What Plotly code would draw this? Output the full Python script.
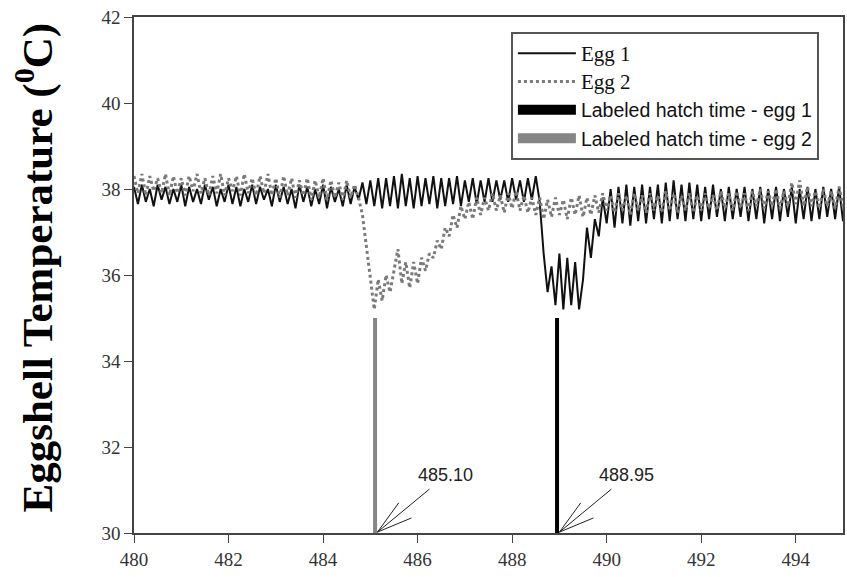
import plotly.graph_objects as go

# ---------------- data ----------------
START_HOUR = 480.0          # first sample (hours of incubation)
STEP_MIN = 5                # sampling interval in minutes

egg1_temp = [
    38.05, 37.65, 38.10, 37.70, 38.00, 37.60, 38.10, 37.75, 38.05, 37.65,
    38.00, 37.70, 38.10, 37.60, 38.05, 37.70, 38.00, 37.65, 38.10, 37.75,
    38.05, 37.60, 38.00, 37.70, 38.10, 37.65, 38.05, 37.60, 38.00, 37.70,
    38.10, 37.65, 38.05, 37.75, 38.00, 37.60, 38.10, 37.70, 38.05, 37.65,
    38.00, 37.55, 38.10, 37.70, 38.05, 37.60, 38.00, 37.65, 38.10, 37.55,
    38.05, 37.70, 38.00, 37.60, 38.10, 37.65, 38.05, 37.75, 38.15, 37.65,
    38.20, 37.60, 38.25, 37.55, 38.25, 37.60, 38.30, 37.55, 38.35, 37.60,
    38.25, 37.55, 38.30, 37.60, 38.25, 37.65, 38.30, 37.55, 38.25, 37.60,
    38.25, 37.65, 38.30, 37.60, 38.20, 37.70, 38.25, 37.65, 38.20, 37.70,
    38.25, 37.70, 38.20, 37.75, 38.20, 37.70, 38.25, 37.75, 38.20, 37.70,
    38.25, 37.75, 38.30,
    37.70, 36.50, 35.60, 36.20, 35.30, 36.50, 35.20, 36.40, 35.30, 36.30,
    35.20, 35.90, 37.10, 36.40, 37.30, 36.90, 37.80, 37.20,
    38.00, 37.10, 38.05, 37.20, 38.10, 37.15, 38.05, 37.25, 38.10, 37.20,
    38.05, 37.30, 38.10, 37.20, 38.15, 37.25, 38.20, 37.30, 38.10, 37.25,
    38.15, 37.30, 38.10, 37.25, 38.05, 37.30, 38.10, 37.35, 38.00, 37.25,
    38.05, 37.30, 38.00, 37.35, 38.05, 37.25, 38.00, 37.30, 38.05, 37.20,
    38.00, 37.30, 38.05, 37.25, 38.00, 37.35, 38.05, 37.20, 38.00, 37.30,
    38.05, 37.25, 38.00, 37.30, 38.05, 37.35, 38.00, 37.30, 38.05, 37.25,
]

egg2_temp = [
    38.30, 37.90, 38.35, 37.85, 38.30, 37.95, 38.25, 37.90, 38.35, 37.85,
    38.30, 37.90, 38.25, 37.85, 38.30, 37.95, 38.35, 37.90, 38.25, 37.85,
    38.30, 37.90, 38.35, 37.85, 38.25, 37.95, 38.30, 37.85, 38.35, 37.90,
    38.25, 37.85, 38.30, 37.90, 38.35, 37.85, 38.25, 37.80, 38.30, 37.85,
    38.25, 37.80, 38.20, 37.85, 38.25, 37.75, 38.20, 37.80, 38.25, 37.75,
    38.20, 37.80, 38.15, 37.75, 38.20, 37.80, 38.10,
    37.80, 37.40, 36.70, 36.00, 35.20, 35.90, 35.40, 36.00, 35.60, 36.10,
    36.60, 35.80, 36.30, 35.70, 36.30, 35.80, 36.40, 36.10, 36.50,
    36.40, 36.80, 36.60, 37.10, 36.90, 37.40, 37.10, 37.60, 37.30, 37.70,
    37.30, 37.80, 37.40, 37.80, 37.50, 37.90, 37.50, 37.85, 37.45, 37.90,
    37.55, 37.95, 37.50, 37.85, 37.45, 37.80, 37.40, 37.80, 37.30, 37.75,
    37.35, 37.80, 37.40, 37.75, 37.30, 37.80, 37.40, 37.85, 37.35, 37.80,
    37.40, 37.85, 37.45, 37.90, 37.50,
    37.85, 37.45, 37.90, 37.50, 37.85, 37.40, 37.90, 37.50, 37.85, 37.45,
    37.90, 37.50, 37.85, 37.45, 37.95, 37.50, 37.90, 37.45, 37.85, 37.50,
    37.90, 37.45, 37.85, 37.50, 37.90, 37.55, 37.85, 37.50, 37.95, 37.55,
    37.90, 37.50, 37.95, 37.55, 37.90, 37.50, 37.95, 37.60, 38.00, 37.55,
    37.95, 37.60, 38.00, 37.55, 37.95, 37.60, 38.15, 37.65, 38.20, 37.60,
    38.05, 37.60, 37.95, 37.55, 38.00, 37.60, 37.95, 37.55, 38.05, 37.60,
]

hatch_times = [488.95, 485.10]          # egg 1, egg 2
hatch_labels = ["488.95", "485.10"]
hatch_top = 35.0
y_min, y_max = 30, 42
x_min, x_max = 480, 495
x_ticks = [480, 482, 484, 486, 488, 490, 492, 494]
y_ticks = [30, 32, 34, 36, 38, 40, 42]

if len(egg1_temp) != len(egg2_temp):
    raise ValueError(f"length mismatch {len(egg1_temp)} {len(egg2_temp)}")
n = len(egg1_temp)
hours = [START_HOUR + i * STEP_MIN / 60.0 for i in range(n)]

SERIF = "Liberation Serif, Times New Roman, serif"
SANS = "Liberation Sans, Arial, sans-serif"

fig = go.Figure()
fig.add_trace(go.Scatter(
    x=hours, y=egg1_temp, mode="lines",
    line=dict(color="#111111", width=2),
    name=f'<span style="font-family:{SERIF};font-size:21px">Egg 1</span>'))
fig.add_trace(go.Scatter(
    x=hours, y=egg2_temp, mode="lines",
    line=dict(color="#7a7a7a", width=3, dash="dot"),
    name=f'<span style="font-family:{SERIF};font-size:21px">Egg 2</span>'))

hatch_colors = ["#000000", "#858585"]
hatch_names = ["Labeled hatch time - egg 1", "Labeled hatch time - egg 2"]
for t, c, nm in zip(hatch_times, hatch_colors, hatch_names):
    fig.add_trace(go.Scatter(x=[t, t], y=[y_min, hatch_top], mode="lines",
                             line=dict(color=c, width=4), showlegend=False,
                             hoverinfo="skip"))
    fig.add_trace(go.Scatter(x=[None, None], y=[None, None], mode="lines",
                             line=dict(color=c, width=14), name=nm))

# fan of pointer lines + value labels
fan_ends = [(1.10, 1.00), (0.45, 0.68), (0.72, 0.33)]
for t, lab in zip(hatch_times, hatch_labels):
    bx, by = t + 0.05, y_min + 0.02
    for dx, dy in fan_ends:
        fig.add_shape(type="line", xref="x", yref="y", x0=bx, y0=by,
                      x1=bx + dx, y1=by + dy,
                      line=dict(color="#222222", width=1))
    fig.add_annotation(x=t + 1.48, y=31.35, xref="x", yref="y", text=lab,
                       showarrow=False, font=dict(family=SANS, size=18, color="#222222"))

fig.add_annotation(x=-0.14, y=0.514, xref="paper", yref="paper",
                   xanchor="center", yanchor="middle",
                   text="<b>Eggshell Temperature (<sup>0</sup>C)</b>",
                   textangle=-90, showarrow=False,
                   font=dict(family=SERIF, size=43, color="#000000"))

axis_common = dict(showline=True, linecolor="#444444", linewidth=1.5,
                   mirror=True, ticks="outside", ticklen=8, tickwidth=1.2,
                   tickcolor="#444444", showgrid=False, zeroline=False,
                   ticklabeloverflow="allow",
                   tickfont=dict(family=SERIF, size=19, color="#333333"))

fig.update_xaxes(range=[x_min, x_max], tickvals=x_ticks, **axis_common)
fig.update_yaxes(range=[y_min, y_max], tickvals=y_ticks, **axis_common)

fig.update_layout(
    width=847, height=577,
    margin=dict(l=134, r=2, t=17, b=44),
    plot_bgcolor="white", paper_bgcolor="white",
    showlegend=True,
    legend=dict(x=0.5316, y=0.971, xanchor="left", yanchor="top",
                bgcolor="white", bordercolor="#555555", borderwidth=2,
                font=dict(family=SANS, size=19.5, color="#111111"),
                itemwidth=58, tracegroupgap=0),
)

# remove the default 8px page margin so the figure sits at the window origin
fig.write_html("out.html",
               config={"displayModeBar": False},
               post_script="document.body.style.margin='0';document.body.style.overflow='hidden';")
